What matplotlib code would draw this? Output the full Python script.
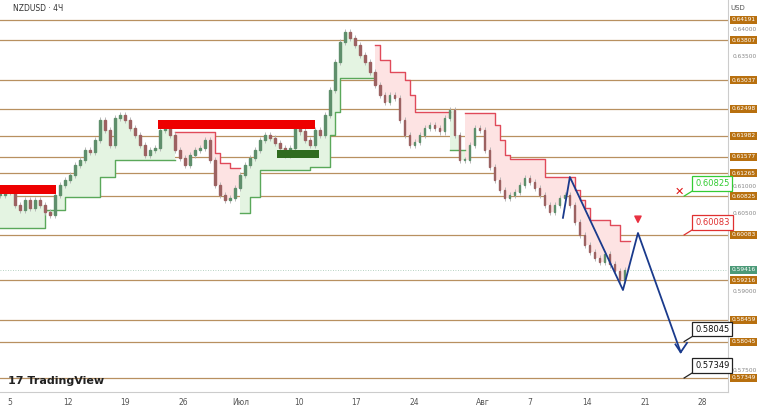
import numpy as np
import matplotlib
matplotlib.use("Agg")
import matplotlib.pyplot as plt
from matplotlib.patches import Rectangle
import matplotlib.transforms as mtrans

closes = [.6085,.6094,.6090,.6066,.6056,.6075,.6060,.6075,.6066,.6052,.6046,.6085,.6104,.6113,.6123,.6142,
          .6152,.6171,.6167,.6190,.6228,.6209,.6180,.6232,.6238,.6228,.6213,.6199,.6180,.6161,.6171,.6175,
          .6209,.6213,.6199,.6171,.6156,.6142,.6161,.6171,.6175,.6190,.6152,.6104,.6085,.6075,.6079,.6098,
          .6123,.6142,.6156,.6171,.6190,.6199,.6194,.6184,.6175,.6161,.6175,.6213,.6206,.6190,.6180,.6209,
          .6199,.6238,.6285,.6339,.6377,.6396,.6385,.6371,.6352,.6339,.6320,.6295,.6276,.6262,.6276,.6270,
          .6228,.6199,.6180,.6186,.6199,.6213,.6219,.6213,.6206,.6232,.6247,.6199,.6152,.6152,.6180,.6213,
          .6209,.6171,.6138,.6113,.6094,.6079,.6085,.6090,.6104,.6117,.6109,.6098,.6085,.6066,.6052,.6066,
          .6079,.6085,.6066,.6033,.6008,.5989,.5975,.5964,.5956,.5971,.5952,.5939,.5922,.5941]
st_levels = [.6021,.6056,.6081,.6119,.6152, .6205,.6165,.6146,.6136, .6050,.6081,.6132,.6138,.6199,.6243,.6308,
             .6371,.6343,.6320,.6304,.6276,.6243, .6171, .6241,.6218,.6190,.6161,.6153,.6119,.6094,.6075,.6060,.6037,.6027,.5997]
st_counts = [9,4,7,3,12, 8,1,2,2, 2,2,10,4,1,1,7, 1,2,3,1,1,7, 3, 6,1,1,1,7,6,1,1,1,4,2,2]
st_dirs =   [1,1,1,1,1, -1,-1,-1,-1, 1,1,1,1,1,1,1, -1,-1,-1,-1,-1,-1, 1, -1,-1,-1,-1,-1,-1,-1,-1,-1,-1,-1,-1]

levels = [0.64191,0.63807,0.63037,0.62498,0.61982,0.61577,0.61265,0.60825,0.60083,0.59216,0.58459,0.58045,0.57349]
axis_ticks = [0.640,0.635,0.610,0.605,0.590,0.575]
current_price = 0.59416
tick_days = [0,5,10,15,20,25,30,35,41,45,50,55,60]
tick_labels = ["5","12","19","26","Июл","10","17","24","Авг","7","14","21","28"]
zz_days = [47.9,48.5,53.1,54.4,58.1]
zz_prices = [0.6041,0.6119,0.5903,0.6012,0.5784]
red_zones = [(-0.9,4.0,0.6087,0.6104),(12.8,26.4,0.6211,0.6228)]
green_zone = (23.1,26.8,0.6155,0.6171)
callouts = [("0.60825",0.60825,"#33cc33"),("0.60083",0.60083,"#e03030"),("0.58045",0.58045,"#222222"),("0.57349",0.57349,"#222222")]

fig = plt.figure(figsize=(7.58,4.07), dpi=100)
ax = fig.add_axes([0,15/407,728/758,392/407])
ax.set_xlim(-0.87,62.2); ax.set_ylim(0.57081,0.64573)
for s in ["top","left"]: ax.spines[s].set_visible(False)
ax.spines["right"].set_color("#cccccc"); ax.spines["bottom"].set_color("#cccccc")
ax.set_yticks([])
ax.set_xticks(tick_days); ax.set_xticklabels(tick_labels, fontsize=5.5, color="#555555")
ax.tick_params(axis="x", length=0, pad=4)

n = len(closes)
xs = (5*np.arange(n)-10)/11.55
st = np.repeat(st_levels, st_counts)[:n]
dr = np.repeat(st_dirs, st_counts)[:n]
cl = np.array(closes)

for lv in levels:
    ax.axhline(lv, color="#b89060", lw=0.9, zorder=1)
ax.axhline(current_price, color="#9fc5b0", lw=0.6, ls=(0,(1,2)), zorder=1)

runs = []
i = 0
while i < n:
    j = i
    while j+1 < n and dr[j+1] == dr[i]: j += 1
    runs.append((i,j)); i = j+1
for a,b in runs:
    up = dr[a] == 1
    xx = xs[a:b+1]; xe = np.append(xx, xx[-1]+5/11.55)
    yy = np.append(st[a:b+1], st[b])
    cc = np.append(cl[a:b+1], cl[b])
    ax.fill_between(xe, yy, cc, step="post", color="#e4f4e2" if up else "#fde3e3", lw=0, zorder=2)
    ax.step(xe, yy, where="post", color="#5aa85a" if up else "#e04a5a", lw=1, zorder=3)

w = 0.12
prev = closes[0]
for k in range(n):
    o = prev; c = closes[k]; prev = c
    col = "#5f8f6c" if c >= o else "#9c6262"
    ax.vlines(xs[k], min(o,c)-0.0006, max(o,c)+0.0006, color="#b0b0b0", lw=0.6, zorder=4)
    ax.add_patch(Rectangle((xs[k]-w/2, min(o,c)), w, max(abs(c-o),0.0001), color=col, zorder=5))

for x0,x1,y0,y1 in red_zones:
    ax.add_patch(Rectangle((x0,y0), x1-x0, y1-y0, color="#ee0000", lw=0, zorder=6))
ax.add_patch(Rectangle((green_zone[0],green_zone[2]), green_zone[1]-green_zone[0], green_zone[3]-green_zone[2], color="#2f6b1f", lw=0, zorder=6))

ax.plot(zz_days, zz_prices, color="#1a3a8c", lw=1.3, zorder=7)
ax.plot([zz_days[-1]-0.45, zz_days[-1], zz_days[-1]+0.55], [zz_prices[-1]+0.0015, zz_prices[-1], zz_prices[-1]+0.0018], color="#1a3a8c", lw=1.3, zorder=7)
ax.annotate("", xy=(54.4,0.6027), xytext=(54.4,0.6043), arrowprops=dict(arrowstyle="simple", color="#e83040", mutation_scale=9))
ax.text(58.0,0.6090,"✕",color="#e01010",fontsize=8,fontweight="bold",ha="center",va="center")

for txt,p,colr in callouts:
    ax.plot([58.4, 59.2],[p, p+0.0011], color=colr, lw=0.9)
    ax.text(59.35, p+0.0024, txt, fontsize=6, color="#111111" if colr=="#222222" else colr, ha="left", va="center",
            bbox=dict(boxstyle="square,pad=0.35", fc="white", ec=colr, lw=0.9), zorder=8)

tr = mtrans.blended_transform_factory(ax.transAxes, ax.transData)
for t in axis_ticks:
    ax.text(1.006, t, f"{t:.5f}", transform=tr, fontsize=4.2, color="#888888", va="center", ha="left", clip_on=False)
for lv in levels:
    ax.text(1.005, lv, f"{lv:.5f}", transform=tr, fontsize=4.2, color="white", va="center", ha="left", clip_on=False,
            bbox=dict(boxstyle="square,pad=0.25", fc="#b8700f", ec="none"))
ax.text(1.005, current_price, f"{current_price:.5f}", transform=tr, fontsize=4.2, color="white", va="center", ha="left",
        clip_on=False, bbox=dict(boxstyle="square,pad=0.25", fc="#4c9a78", ec="none"))

fig.text(0.017, 0.98, "NZDUSD · 4Ч", fontsize=5.5, color="#333333", va="center")
fig.text(0.963, 0.98, "USD", fontsize=5, color="#555555", va="center")
fig.text(0.01, 0.063, "17 TradingView", fontsize=8, color="#222222", va="center", fontweight="bold")
fig.savefig("out.png", dpi=100, facecolor="white")
